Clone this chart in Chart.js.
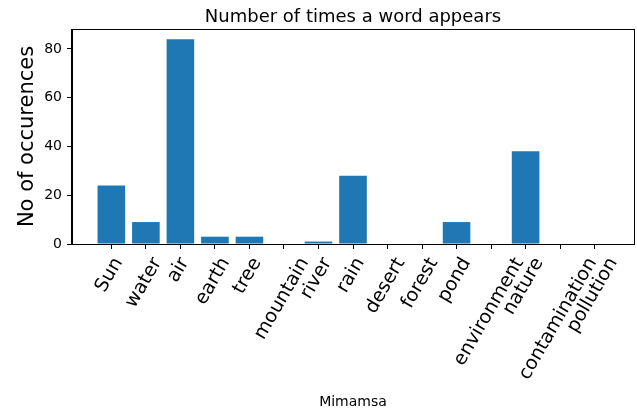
<!DOCTYPE html>
<html lang="en">
  <head>
    <meta charset="UTF-8" />
    <script src="https://cdn.jsdelivr.net/npm/chart.js@4"></script>
    <title>Word counts</title>
    <style>
      body { margin: 0; background: #fff; }
    </style>
  </head>
  <body>
    <canvas id="myChart" width="637" height="412"></canvas>
    <script>
      // words and how often they show up
      const words = ["Sun", "water", "air", "earth", "tree", "mountain", "river", "rain",
        "desert", "forest", "pond", "environment", "nature", "contamination", "pollution"];
      const counts = [24, 9, 84, 3, 3, 0, 1, 28, 0, 0, 9, 0, 38, 0, 0];
      const yTicks = [0, 20, 40, 60, 80];

      const font = "DejaVu Sans";

      // matplotlib-like tick labels: rotated 60deg, bbox centred on the tick
      const wordLabels = {
        id: "wordLabels",
        afterDraw(chart) {
          const ctx = chart.ctx;
          const xs = chart.scales.x;
          const top = chart.chartArea.bottom + 10;
          const size = 19;
          const a = Math.PI / 3;
          ctx.save();
          ctx.font = size + "px '" + font + "'";
          ctx.fillStyle = "#000";
          ctx.textAlign = "center";
          ctx.textBaseline = "middle";
          words.forEach((w, i) => {
            const tw = ctx.measureText(w).width;
            const th = size * 1.15;
            const bh = tw * Math.sin(a) + th * Math.cos(a);
            ctx.save();
            ctx.translate(xs.getPixelForValue(i) - 2, top + bh / 2);
            ctx.rotate(-a);
            ctx.fillText(w, 0, 0);
            ctx.restore();
          });
          // frame around the plot
          const ca = chart.chartArea;
          ctx.strokeStyle = "#000";
          ctx.lineWidth = 1;
          ctx.strokeRect(Math.round(ca.left) - 0.5, Math.round(ca.top) + 0.5,
            Math.round(ca.right - ca.left) + 1, Math.round(ca.bottom - ca.top));
          ctx.restore();
        },
      };

      const ctx = document.getElementById("myChart").getContext("2d");
      new Chart(ctx, {
        type: "bar",
        data: {
          datasets: [
            {
              data: counts.map((c, i) => ({ x: i, y: c })),
              backgroundColor: "#1f77b4",
              borderWidth: 0,
              barPercentage: 0.8,
              categoryPercentage: 1.0,
            },
          ],
        },
        options: {
          responsive: false,
          animation: false,
          layout: { padding: { right: 3 } },
          plugins: {
            legend: { display: false },
            tooltip: { enabled: false },
            title: {
              display: true,
              fullSize: false,
              text: "Number of times a word appears",
              color: "#000",
              font: { family: font, size: 18, weight: "normal" },
              padding: { top: 7, bottom: 0.4 },
            },
          },
          scales: {
            x: {
              type: "linear",
              offset: false,
              min: -1.14,
              max: 15.14,
              afterBuildTicks: (s) => { s.ticks = words.map((w, i) => ({ value: i })); },
              afterFit: (s) => { s.height = 168; },
              ticks: { display: false },
              grid: { offset: false, drawOnChartArea: false, tickLength: 5, color: "#000" },
              border: { display: true, color: "#000" },
              title: {
                display: true,
                text: "Mimamsa",
                color: "#000",
                font: { family: font, size: 14 },
                padding: { top: 0, bottom: 1 },
              },
            },
            y: {
              min: 0,
              max: 88.2,
              afterBuildTicks: (s) => { s.ticks = yTicks.map((v) => ({ value: v })); },
              afterFit: (s) => { s.width = 72; },
              ticks: { color: "#000", font: { family: font, size: 14 }, padding: 5 },
              grid: { drawOnChartArea: false, tickLength: 5, color: "#000" },
              border: { display: true, color: "#000" },
              title: {
                display: true,
                text: "No of occurences",
                color: "#000",
                font: { family: font, size: 21 },
                padding: { top: 15, bottom: 0 },
              },
            },
          },
        },
        plugins: [wordLabels],
      });
    </script>
  </body>
</html>
